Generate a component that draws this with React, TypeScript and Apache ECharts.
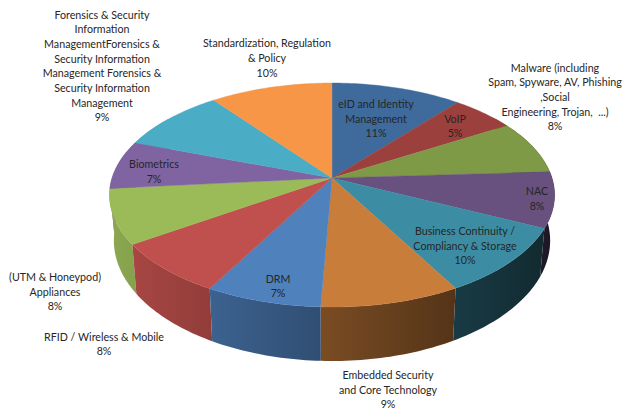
import React, { useEffect, useRef } from "react";
import * as echarts from "echarts";

const categories = [
  "eID and Identity\nManagement",
  "VoIP",
  "Malware (including\nSpam, Spyware, AV, Phishing\n,Social\nEngineering, Trojan,  ...)",
  "NAC",
  "Business Continuity /\nCompliancy & Storage",
  "Embedded Security\nand Core Technology",
  "DRM",
  "RFID / Wireless & Mobile",
  "(UTM & Honeypod)\nAppliances",
  "Biometrics",
  "Forensics & Security\nInformation\nManagementForensics &\nSecurity Information\nManagement Forensics &\nSecurity Information\nManagement",
  "Standardization, Regulation\n& Policy",
];
const shares = [11, 5.4, 7.7, 8, 9.8, 8.8, 7.3, 7.6, 7.9, 7, 9.2, 10.3];
const percentLabels = ["11%", "5%", "8%", "8%", "10%", "9%", "7%", "8%", "8%", "7%", "9%", "10%"];
const colors = [
  "#3E6A9C", "#9B403C", "#7E9A47", "#68507F", "#3C8DA3", "#C97D3A",
  "#4F81BD", "#C0504D", "#9BBB59", "#8064A2", "#4BACC6", "#F79646",
];
const labelCentres = [
  [376, 118], [455, 125.5], [555, 96.5], [537, 198], [465, 245], [388, 389],
  [278, 285.5], [104, 343.5], [55, 291], [154, 171], [102, 65.5], [267, 57.5],
];

const CX = 332;
const CY = 178;
const R = 220;
const H = 109.4;
const K = 0.152;
const TOTAL = shares.reduce((a, b) => a + b, 0);

function project(theta: number): [number, number] {
  const u = Math.sin(theta);
  const v = Math.cos(theta);
  const p = 1 / (1 + K * v);
  return [CX + R * u * p, CY - H * v * p];
}
function lower([x, y]: [number, number]): [number, number] {
  return [CX + (x - CX) * 0.98, y + 48 + (y - 227) * 0.075];
}
function arc(a0: number, a1: number): [number, number][] {
  const n = Math.max(2, Math.ceil(Math.abs(a1 - a0) / 0.02));
  const out: [number, number][] = [];
  for (let i = 0; i <= n; i++) out.push(project(a0 + ((a1 - a0) * i) / n));
  return out;
}
function bounds(i: number): [number, number] {
  let s = 0;
  for (let k = 0; k < i; k++) s += shares[k];
  return [(s / TOTAL) * Math.PI * 2, ((s + shares[i]) / TOTAL) * Math.PI * 2];
}
function shade(hex: string, f: number): string {
  const n = parseInt(hex.slice(1), 16);
  const c = [(n >> 16) & 255, (n >> 8) & 255, n & 255].map((v) => Math.round(v * f));
  return `rgb(${c[0]},${c[1]},${c[2]})`;
}
function light(x: number): number {
  const t = Math.min(1, Math.max(0, (x - 110) / 445));
  return 0.9 - 0.62 * t;
}

function renderWall(params: any) {
  const i = params.dataIndex;
  const [a0, a1] = bounds(i);
  const from = Math.max(a0, Math.PI * 0.3);
  const to = Math.min(a1, Math.PI * 1.7);
  if (to <= from) return { type: "group", children: [] };
  const top = arc(from, to);
  const pts = top.concat(top.map(lower).reverse());
  const xs = pts.map((p) => p[0]);
  const x0 = Math.min(...xs);
  const x1 = Math.max(...xs);
  const mid = (a0 + a1) / 2;
  return {
    type: "polygon",
    z2: Math.round(100 - Math.abs(mid - Math.PI) * 20),
    shape: { points: pts },
    style: {
      fill: {
        type: "linear", x: x0, y: 0, x2: x1, y2: 0, global: true,
        colorStops: [
          { offset: 0, color: shade(colors[i], light(x0)) },
          { offset: 1, color: shade(colors[i], light(x1)) },
        ],
      },
    },
  };
}
function renderTop(params: any) {
  const i = params.dataIndex;
  const [a0, a1] = bounds(i);
  const pts = [[CX, CY] as [number, number]].concat(arc(a0, a1));
  return {
    type: "polygon",
    shape: { points: pts },
    style: { fill: colors[i], stroke: colors[i], lineWidth: 0.4 },
  };
}
function renderLabel(params: any) {
  const i = params.dataIndex;
  return {
    type: "text",
    x: labelCentres[i][0],
    y: labelCentres[i][1],
    style: {
      text: `${categories[i]}\n${percentLabels[i]}`,
      fill: "#262626",
      font: "10.7px Lato",
      lineHeight: 14.7,
      align: "center",
      verticalAlign: "middle",
    },
  };
}

export default function App() {
  const ref = useRef<HTMLDivElement>(null);
  useEffect(() => {
    document.body.style.margin = "0";
    const chart = echarts.init(ref.current!, undefined, { renderer: "svg" });
    const base = { type: "custom", coordinateSystem: "none", data: shares, silent: true, clip: false };
    chart.setOption({
      animation: false,
      backgroundColor: "#ffffff",
      series: [
        { ...base, name: "walls", z: 1, renderItem: renderWall },
        { ...base, name: "tops", z: 2, renderItem: renderTop },
        { ...base, name: "labels", z: 3, renderItem: renderLabel },
      ],
    });
    return () => chart.dispose();
  }, []);
  return <div ref={ref} style={{ width: 623, height: 410 }} />;
}
